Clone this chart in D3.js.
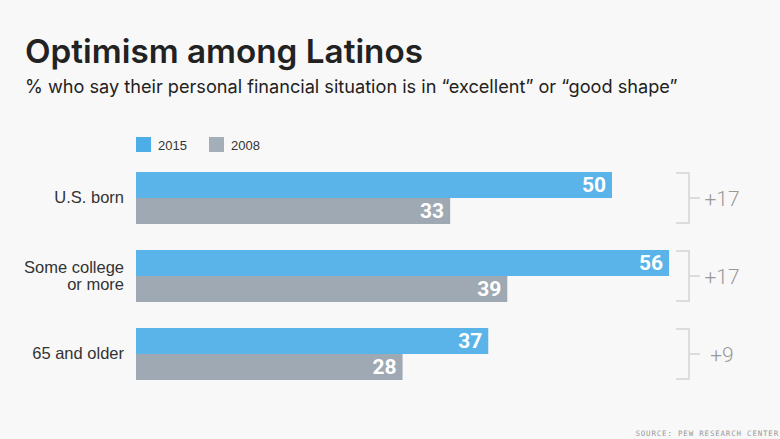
<!DOCTYPE html>
<html><head><meta charset="utf-8">
<script src="https://cdn.jsdelivr.net/npm/d3@7"></script>
<style>
html,body{margin:0;padding:0;background:#f8f8f8;}
svg{display:block;}
</style></head>
<body>
<script>
const categories = [["U.S. born"], ["Some college", "or more"], ["65 and older"]];
const values2015 = [50, 56, 37];
const values2008 = [33, 39, 28];
const changes = ["+17", "+17", "+9"];
const seriesNames = ["2015", "2008"];
const colors = ["#5ab3e9", "#9ea9b4"];
const legendColors = ["#4dade7", "#a3aeb9"];

const W = 780, H = 439;
const svg = d3.select("body").append("svg").attr("width", W).attr("height", H);
svg.append("rect").attr("width", W).attr("height", H).attr("fill", "#f8f8f8");

const font = "Inter, Roboto, 'Liberation Sans', Arial, sans-serif";

function fitWidth(sel, target, baseSize) {
  const w = sel.node().getComputedTextLength();
  if (w > 0) sel.attr("font-size", baseSize * target / w);
}

const title = svg.append("text").attr("x", 25).attr("y", 63).text("Optimism among Latinos")
  .attr("font-family", font).attr("font-size", 30).attr("font-weight", 600).attr("fill", "#222");
fitWidth(title, 398, 30);
const sub = svg.append("text").attr("x", 25).attr("y", 93)
  .text("% who say their personal financial situation is in \u201cexcellent\u201d or \u201cgood shape\u201d")
  .attr("font-family", font).attr("font-size", 18).attr("fill", "#222");
fitWidth(sub, 653, 18);

// legend
const lg = svg.append("g");
const legendX = [136, 209];
seriesNames.forEach((n, i) => {
  lg.append("rect").attr("x", legendX[i]).attr("y", 137).attr("width", 15).attr("height", 15).attr("fill", legendColors[i]);
  lg.append("text").attr("x", legendX[i] + 22).attr("y", 149.5).text(n)
    .attr("font-family", "'Liberation Sans', Arial, sans-serif").attr("font-size", 13).attr("fill", "#333");
});

const x = d3.scaleLinear().domain([0, 50]).range([136, 612]);
const y = d3.scaleBand().domain(d3.range(categories.length)).range([172, 172 + 78 * 3]).paddingInner(0).paddingOuter(0);
const barH = 26;

categories.forEach((cat, i) => {
  const y0 = y(i);
  const vals = [values2015[i], values2008[i]];
  vals.forEach((v, j) => {
    const yy = y0 + j * barH;
    svg.append("rect").attr("x", x(0)).attr("y", yy).attr("width", x(v) - x(0)).attr("height", barH).attr("fill", colors[j]);
    svg.append("text").attr("x", x(v) - 6).attr("y", yy + 20).attr("text-anchor", "end").text(v)
      .attr("font-family", "Roboto, 'Liberation Sans', Arial, sans-serif").attr("font-size", 21).attr("font-weight", 700).attr("fill", "#fff");
  });
  // category label
  const mid = y0 + barH;
  const lines = cat;
  const lh = 17;
  const t = svg.append("text").attr("text-anchor", "end").attr("font-family", "'Liberation Sans', Arial, sans-serif")
    .attr("font-size", 16.5).attr("fill", "#333");
  lines.forEach((l, k) => {
    t.append("tspan").attr("x", 124).attr("y", mid + 5 - (lines.length - 1) * lh / 2 + k * lh).text(l);
  });
  // bracket
  const top = y0, bot = y0 + 2 * barH;
  svg.append("path").attr("d", `M676,${top + 1}H689V${bot - 1}H676M689,${mid}H700`)
    .attr("fill", "none").attr("stroke", "#dcdcdc").attr("stroke-width", 2);
  svg.append("text").attr("x", 722).attr("y", mid + 7.5).attr("text-anchor", "middle").text(changes[i])
    .attr("font-family", "Roboto, 'Liberation Sans', Arial, sans-serif").attr("font-weight", 300).attr("font-size", 21).attr("fill", "#999");
});

svg.append("text").attr("x", 779).attr("y", 436).attr("text-anchor", "end").text("SOURCE: PEW RESEARCH CENTER")
  .attr("font-family", "'DejaVu Sans Mono', monospace").attr("font-size", 7.5).attr("letter-spacing", 0.8).attr("fill", "#999");
</script>
</body></html>
